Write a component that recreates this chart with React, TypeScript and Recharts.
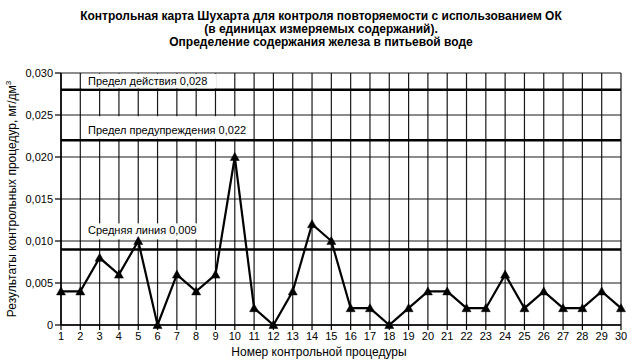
import React from 'react';
import { LineChart, Line, XAxis, YAxis, CartesianGrid, ReferenceLine } from 'recharts';

const procedures = [1,2,3,4,5,6,7,8,9,10,11,12,13,14,15,16,17,18,19,20,21,22,23,24,25,26,27,28,29,30];
const results = [0.004,0.004,0.008,0.006,0.010,0,0.006,0.004,0.006,0.020,0.002,0,0.004,0.012,0.010,0.002,0.002,0,0.002,0.004,0.004,0.002,0.002,0.006,0.002,0.004,0.002,0.002,0.004,0.002];
const yTicks = [0,0.005,0.010,0.015,0.020,0.025,0.030];
const actionLimit = 0.028;
const warningLimit = 0.022;
const centerLine = 0.009;
const titleLines = [
  'Контрольная карта Шухарта для контроля повторяемости с использованием ОК',
  '(в единицах измеряемых содержаний).',
  'Определение содержания железа в питьевой воде',
];
const actionLabel = 'Предел действия 0,028';
const warningLabel = 'Предел предупреждения 0,022';
const centerLabel = 'Средняя линия 0,009';
const yLabel = 'Результаты контрольных процедур, мг/дм';
const xLabel = 'Номер контрольной процедуры';

const data = procedures.map((p, i) => ({ p, v: results[i] }));

const FONT = '"Liberation Sans", Arial, sans-serif';

const fmt = (v: number) => (v === 0 ? '0' : v.toFixed(3).replace('.', ','));

const Triangle = (props: any) => {
  const { cx, cy } = props;
  if (cx == null || cy == null) return null;
  return <polygon points={`${cx - 4.5},${cy + 3.5} ${cx + 4.5},${cy + 3.5} ${cx},${cy - 4.5}`} fill="#000" stroke="#000" strokeWidth={0.5} />;
};

const makeLabel = (text: string, boxW: number, boxTop: number, boxBottom: number, baseline: number) => (props: any) => {
  const vb = props.viewBox || {};
  const x0 = vb.x ?? 61;
  const y0 = vb.y ?? 0;
  return (
    <g>
      <rect x={x0 + 21} y={y0 - boxTop} width={boxW} height={boxTop - boxBottom} fill="#fff" />
      <text x={x0 + 27} y={y0 - baseline} fontSize={11} fontFamily={FONT} fill="#000">{text}</text>
    </g>
  );
};

const YLabel = () => (
  <text x={16} y={199} transform="rotate(-90, 16, 199)" textAnchor="middle" fontSize={12} fontFamily={FONT} fill="#000">
    {yLabel}<tspan dy={-5} fontSize={8}>3</tspan>
  </text>
);

const XLabel = () => (
  <text x={319} y={356} textAnchor="middle" fontSize={12} fontFamily={FONT} fill="#000">{xLabel}</text>
);

export default function App() {
  return (
    <div style={{ position: 'absolute', left: 0, top: 0, width: 642, height: 364, background: '#fff', fontFamily: FONT }}>
      <div style={{ position: 'absolute', left: 0, top: 10, width: 642, textAlign: 'center', fontSize: 12, fontWeight: 'bold', lineHeight: '13px', color: '#000' }}>
        {titleLines.map((t, i) => <div key={i}>{t}</div>)}
      </div>
      <LineChart width={642} height={364} data={data} margin={{ top: 73, right: 21, bottom: 9, left: 0 }}>
        <CartesianGrid stroke="#000" strokeWidth={1.2} strokeOpacity={0.9} />
        <XAxis
          dataKey="p"
          type="number"
          domain={[1, 30]}
          ticks={procedures}
          interval={0}
          height={30}
          tickSize={5}
          tickMargin={2}
          axisLine={{ stroke: '#000', strokeWidth: 1.5 }}
          tickLine={{ stroke: '#000', strokeWidth: 1.2 }}
          tick={{ fill: '#000', fontSize: 11, fontFamily: FONT }}
          label={<XLabel />}
        />
        <YAxis
          type="number"
          domain={[0, 0.03]}
          ticks={yTicks}
          width={61}
          tickSize={6}
          tickMargin={2}
          tickFormatter={fmt}
          axisLine={{ stroke: '#000', strokeWidth: 1.5 }}
          tickLine={{ stroke: '#000', strokeWidth: 1.2 }}
          tick={{ fill: '#000', fontSize: 11, fontFamily: FONT }}
          label={<YLabel />}
        />
        <ReferenceLine y={actionLimit} stroke="#000" strokeWidth={2.5} label={makeLabel(actionLabel, 134, 16, 1.5, 5)} />
        <ReferenceLine y={warningLimit} stroke="#000" strokeWidth={2.5} label={makeLabel(warningLabel, 160, 24, 1.5, 6)} />
        <ReferenceLine y={centerLine} stroke="#000" strokeWidth={2.5} label={makeLabel(centerLabel, 115, 26, 10, 15)} />
        <Line
          type="linear"
          dataKey="v"
          stroke="#000"
          strokeWidth={2.2}
          dot={<Triangle />}
          activeDot={false}
          isAnimationActive={false}
        />
      </LineChart>
    </div>
  );
}
